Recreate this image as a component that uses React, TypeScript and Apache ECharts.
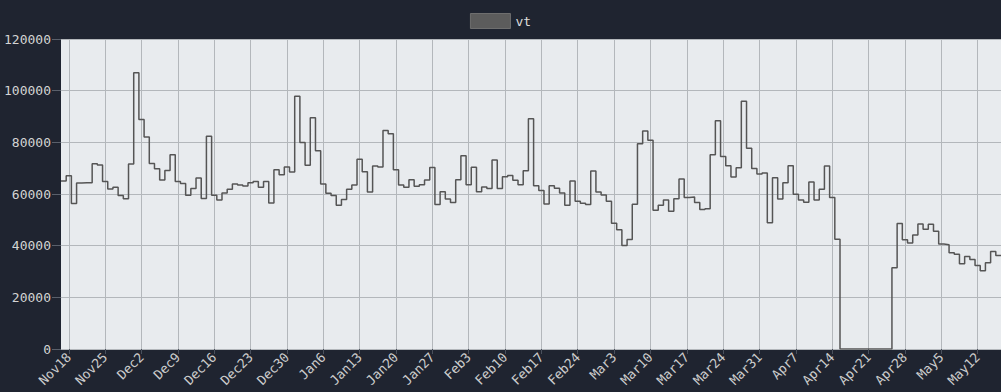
import React, { useEffect, useRef } from "react";
import * as echarts from "echarts";

// Daily values, 2018-11-17 .. 2019-05-16
const vtNov: number[] = [65000, 67100, 56300, 64300, 64400, 64400, 71700, 71200, 64800, 61900, 62600, 59400, 58200, 71600];
const vtDec: number[] = [
  106900, 88800, 82100, 71800, 69800, 65400, 69100, 75200, 64800, 64100, 59500, 62100, 66200, 58300, 82400, 59500,
  57700, 60400, 61800, 63900, 63500, 63100, 64400, 64800, 62600, 64800, 56500, 69400, 67500, 70500, 68500,
];
const vtJan: number[] = [
  97800, 79900, 71100, 89500, 76700, 63900, 60300, 59400, 55600, 57900, 61800, 63500, 73500, 68600, 60800, 70800,
  70500, 84600, 83300, 69400, 63500, 62600, 65500, 63000, 63600, 65400, 70300, 55900, 60900, 58100, 56700,
];
const vtFeb: number[] = [
  65500, 74800, 63600, 70400, 60900, 62700, 62100, 73200, 62100, 66700, 67200, 65300, 63600, 69000, 89100, 63200,
  61400, 56100, 63200, 62200, 60400, 55600, 65000, 57200, 56400, 55900, 68900, 60800,
];
const vtMar: number[] = [
  59600, 57200, 48700, 46200, 40100, 42400, 56000, 79500, 84400, 80800, 53700, 55600, 57700, 53300, 58200, 65800,
  58600, 58800, 56700, 54000, 54300, 75200, 88400, 74500, 70900, 66600, 70200, 95900, 77700, 69900, 67700,
];
const vtApr: number[] = [
  68100, 48900, 66300, 58100, 64400, 70900, 59900, 57700, 56800, 64600, 57700, 61800, 70800, 58600, 42500, 0,
  0, 0, 0, 0, 0, 0, 0, 0, 0, 31500, 48600, 42300, 41000, 44100,
];
const vtMay: number[] = [48400, 46400, 48300, 45600, 40600, 40400, 37300, 36700, 33000, 35800, 34600, 32300, 30300, 33400, 37700, 36200];

const values: number[] = [...vtNov, ...vtDec, ...vtJan, ...vtFeb, ...vtMar, ...vtApr, ...vtMay];

const START_DATE = Date.UTC(2018, 10, 17);
const MONTHS = ["Jan", "Feb", "Mar", "Apr", "May", "Jun", "Jul", "Aug", "Sep", "Oct", "Nov", "Dec"];
const categories: string[] = values.map((_, i) => {
  const d = new Date(START_DATE + i * 86400000);
  return MONTHS[d.getUTCMonth()] + d.getUTCDate();
});

const yTicks = { min: 0, max: 120000, interval: 20000 };

const MONO = "'DejaVu Sans Mono', monospace";

export default function App() {
  const ref = useRef<HTMLDivElement>(null);

  useEffect(() => {
    if (!ref.current) return;
    const chart = echarts.init(ref.current, null, { renderer: "svg" });
    const weekly = (idx: number) => idx % 7 === 1;
    const stepData: number[][] = values.map((v, i) => [i, v]);
    stepData.push([values.length, values[values.length - 1]]);

    chart.setOption({
      animation: false,
      backgroundColor: "#1f2430",
      legend: {
        top: 8,
        left: "center",
        itemWidth: 40,
        itemHeight: 15,
        itemGap: 10,
        data: [
          {
            name: "vt",
            icon: "rect",
            itemStyle: { color: "#5c5c5c", borderColor: "#6e6e6e", borderWidth: 1 },
          },
        ],
        textStyle: { color: "#dcdcdc", fontFamily: MONO, fontSize: 13 },
      },
      grid: {
        left: 61,
        right: 0,
        top: 39,
        bottom: 43,
        show: true,
        backgroundColor: "#e8ebee",
        borderWidth: 0,
        containLabel: false,
      },
      xAxis: [
        {
          type: "category",
          data: categories,
          boundaryGap: true,
          axisLine: { show: false },
          axisTick: {
            show: true,
            alignWithLabel: true,
            interval: weekly,
            length: 5,
            lineStyle: { color: "#4a505c" },
          },
          axisLabel: {
            interval: weekly,
            rotate: 45,
            color: "#cccccc",
            fontFamily: MONO,
            fontSize: 13,
            margin: 6,
          },
          splitLine: {
            show: true,
            alignWithLabel: true,
            interval: weekly,
            lineStyle: { color: "#b3b7bb", width: 1 },
          },
        },
        {
          type: "value",
          min: 0,
          max: values.length,
          show: false,
          splitLine: { show: false },
        },
      ],
      yAxis: {
        type: "value",
        min: yTicks.min,
        max: yTicks.max,
        interval: yTicks.interval,
        axisLine: { show: false },
        axisTick: { show: true, length: 9, lineStyle: { color: "#5a606b" } },
        axisLabel: {
          color: "#d4d4d4",
          fontFamily: MONO,
          fontSize: 13,
          margin: 10,
          formatter: (v: number) => String(v),
        },
        splitLine: { show: true, lineStyle: { color: "#b3b7bb", width: 1 } },
      },
      series: [
        {
          name: "vt",
          type: "line",
          xAxisIndex: 1,
          step: "end",
          data: stepData,
          showSymbol: false,
          symbol: "none",
          lineStyle: { color: "#555555", width: 1.5 },
          itemStyle: { color: "#5c5c5c" },
        },
      ],
    });
    return () => chart.dispose();
  }, []);

  return (
    <div
      ref={ref}
      style={{ position: "fixed", left: 0, top: 0, width: 1001, height: 392 }}
    />
  );
}
